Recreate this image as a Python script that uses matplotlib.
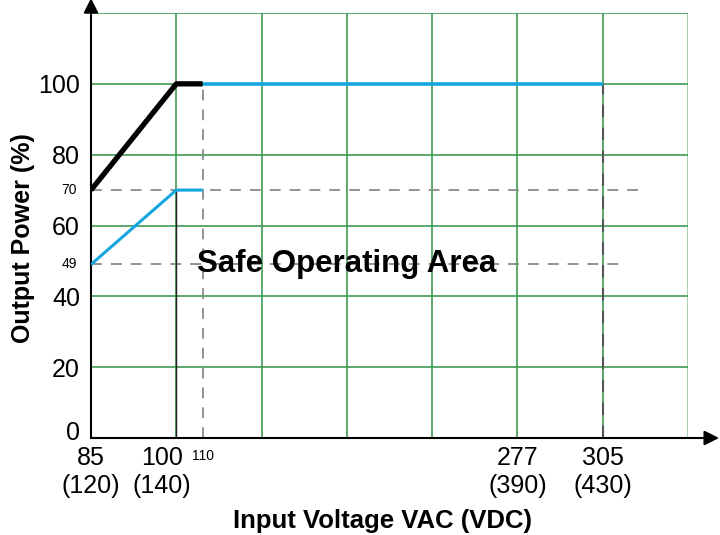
import numpy as np
import matplotlib
matplotlib.use("Agg")
from matplotlib import pyplot as plt
from matplotlib.transforms import ScaledTranslation

# input voltage axis (non-linear, one grid cell per label)
knot_volts = [85, 100, 110, 277, 305, 333]
knot_pos = [0, 1, 1.31, 5, 6, 7]

vac_ticks = [85, 100, 277, 305]
vdc_ticks = [120, 140, 390, 430]

# derating curves
black_v = [85, 100, 110]
black_p = [70, 100, 100]
blue_v = [110, 305]
blue_p = [100, 100]
low_v = [85, 100, 110]
low_p = [49, 70, 70]

# reference (dashed) lines
ref70_end = 319
ref49_end = 313

plt.rcParams["font.family"] = ["Liberation Sans", "DejaVu Sans"]

GREEN = "#3f9a52"
BLUE = "#16a6df"


def fwd(v):
    return np.interp(v, knot_volts, knot_pos)


def inv(p):
    return np.interp(p, knot_pos, knot_volts)


fig = plt.figure(figsize=(7.2, 5.35), dpi=100)
ax = fig.add_axes([91 / 720, 1 - 438 / 535, 597 / 720, 425 / 535])
ax.set_xscale("function", functions=(fwd, inv))
ax.set_xlim(85, 333)
ax.set_ylim(0, 120)

for s in ax.spines.values():
    s.set_visible(False)

# grid
for p in range(8):
    ax.axvline(inv(p), color=GREEN, lw=1.2, alpha=0.55 if p == 7 else 1, zorder=1)
for y in range(0, 121, 20):
    ax.axhline(y, color=GREEN, lw=1.2, zorder=1)

# dashed reference lines
ax.plot([85, ref70_end], [70, 70], color="#8a8a8a", lw=1.3, dashes=(6, 5), zorder=2)
ax.plot([85, ref49_end], [49, 49], color="#8a8a8a", lw=1.3, dashes=(6, 5), zorder=2)
ax.plot([110, 110], [0, 100], color="#8a8a8a", lw=1.3, dashes=(6, 5), zorder=2)
ax.plot([305, 305], [0, 100], color="#555555", lw=1.5, dashes=(6, 5), zorder=2)
ax.plot([100, 100], [0, 70], color="#222222", lw=1.0, zorder=2)

# curves
ax.plot(black_v, black_p, color="black", lw=3.8, solid_capstyle="butt", zorder=4)
ax.plot(blue_v, blue_p, color=BLUE, lw=2.6, solid_capstyle="butt", zorder=4)
ax.plot(low_v, low_p, color=BLUE, lw=2.2, solid_capstyle="butt", zorder=4)

ax.text(inv(3.0), 49, "Safe Operating Area", fontsize=22.5, fontweight="bold",
        ha="center", va="center", zorder=5)

# ticks
ax.set_yticks([0, 20, 40, 60, 80, 100])
ax.tick_params(axis="y", length=0, labelsize=18, pad=8)
zero = ax.get_yticklabels()[0]
zero.set_transform(zero.get_transform() + ScaledTranslation(0, 7 / 100, fig.dpi_scale_trans))
for y in [70, 49]:
    ax.text(-0.024, y, str(y), transform=ax.get_yaxis_transform(),
            ha="right", va="center", fontsize=10)

ax.set_xticks(vac_ticks)
ax.set_xticklabels([f"{a}\n({d})" for a, d in zip(vac_ticks, vdc_ticks)],
                   linespacing=1.2)
ax.tick_params(axis="x", length=0, labelsize=18, pad=6)
ax.xaxis.set_minor_locator(matplotlib.ticker.NullLocator())
lab = ax.get_xticklabels()[1]
lab.set_transform(lab.get_transform() + ScaledTranslation(-14 / 100, 0, fig.dpi_scale_trans))
ax.text(110, -0.026, "110", transform=ax.get_xaxis_transform(),
        ha="center", va="top", fontsize=10)

ax.set_ylabel("Output Power (%)", fontsize=18, fontweight="bold")
ax.yaxis.set_label_coords(-0.094, 0.47)
ax.set_xlabel("Input Voltage VAC (VDC)", fontsize=18.5, fontweight="bold")
ax.xaxis.set_label_coords(0.488, -0.168)

# axis arrows
ax.annotate("", xy=(0, 1.035), xytext=(0, 0), xycoords="axes fraction",
            arrowprops=dict(arrowstyle="-|>", color="black", lw=1.5,
                            mutation_scale=22, shrinkA=0, shrinkB=0),
            annotation_clip=False)
ax.annotate("", xy=(1.052, 0), xytext=(0, 0), xycoords="axes fraction",
            arrowprops=dict(arrowstyle="-|>", color="black", lw=1.5,
                            mutation_scale=22, shrinkA=0, shrinkB=0),
            annotation_clip=False)

fig.savefig("out.png", dpi=100)
